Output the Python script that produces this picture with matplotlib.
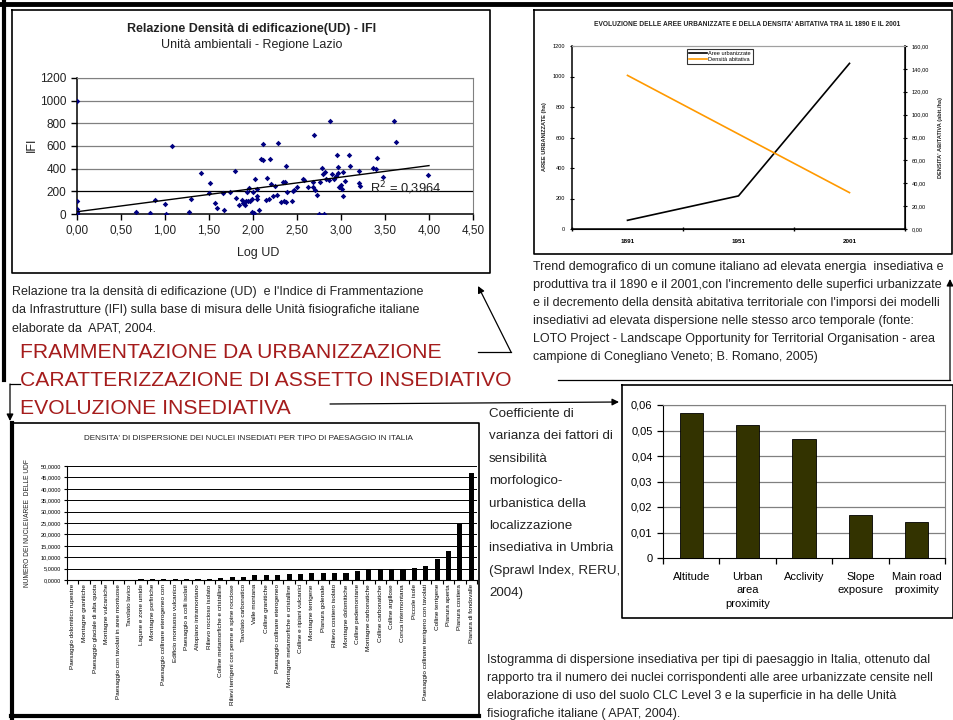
import numpy as np
import matplotlib
matplotlib.use('Agg')
import matplotlib.pyplot as plt
import matplotlib.font_manager as fm
from matplotlib.ticker import FuncFormatter, FixedLocator

plt.rcParams['font.family'] = ['Liberation Sans', 'DejaVu Sans']

# --- dati: relazione UD - IFI (Lazio)
log_ud = [0, 0, 0, 0, 0, 0,
          0.674, 0.833, 0.89, 1.004, 1.015, 1.083, 1.269, 1.30, 1.413, 1.508,
          1.504, 1.568, 1.587, 1.674, 1.66, 1.735, 1.795, 1.81, 1.84, 1.875,
          1.89, 1.905, 1.917, 1.93, 1.94, 1.955, 1.97, 1.985, 1.99, 2.0,
          2.015, 2.02, 2.04, 2.04, 2.07, 2.05, 2.095, 2.114, 2.117, 2.15,
          2.16, 2.18, 2.19, 2.21, 2.227, 2.25, 2.27, 2.285, 2.32, 2.34,
          2.35, 2.36, 2.37, 2.38, 2.386, 2.44, 2.455, 2.47, 2.5, 2.568,
          2.576, 2.625, 2.68, 2.69, 2.68, 2.7, 2.727, 2.76, 2.75, 2.806,
          2.78, 2.8, 2.82, 2.83, 2.86, 2.879, 2.9, 2.917, 2.94, 2.958,
          2.97, 2.97, 2.98, 3.0, 3.015, 3.02, 3.02, 3.05, 3.087, 3.106,
          3.2, 3.2, 3.22, 3.367, 3.4, 3.41, 3.48, 3.6, 3.62, 3.99]
ifi = [995, 117, 44, 9, 2, 20,
       20, 9, 126, 85, 0, 600, 18, 135, 366, 275,
       184, 94, 53, 32, 184, 196, 378, 138, 82, 126,
       97, 76, 111, 196, 111, 228, 111, 135, 20, 190,
       9, 313, 161, 132, 32, 220, 486, 477, 618, 126,
       322, 132, 486, 266, 158, 249, 167, 629, 102, 278,
       117, 278, 108, 427, 196, 117, 202, 214, 237, 313,
       296, 240, 284, 700, 240, 214, 164, 278, 0, 0,
       407, 354, 375, 307, 299, 822, 351, 310, 331, 518,
       419, 360, 234, 252, 220, 369, 155, 287, 524, 424,
       383, 272, 243, 407, 395, 498, 328, 820, 632, 345]
trend_x = [0, 4.0]
trend_y = [20, 427]

# --- dati: evoluzione aree urbanizzate / densita
anni = ['1891', '1951', '2001']
aree_urb = [57, 217, 1086]
dens_abit = [134.3, 83.0, 31.8]

# --- dati: dispersione per tipo di paesaggio
paesaggi = ['Paesaggio dolomitico rupestre', 'Montagne granitiche',
            'Paesaggio glaciale di alta quota', 'Montagne vulcaniche',
            'Paesaggio con tavolati in aree montuose', 'Tavolato lavico',
            'Lagune e zone umide', 'Montagne porfiriche',
            'Paesaggio collinare eterogeneo con', 'Edificio montuoso vulcanico',
            'Paesaggio a colli isolati', 'Altopiano intramontano',
            'Rilievo roccioso isolato', 'Colline metamorfiche e cristalline',
            'Rilievi terrigeni con penne e spine rocciose', 'Tavolato carbonatico',
            'Valle montana', 'Colline granitiche', 'Paesaggio collinare eterogeneo',
            'Montagne metamorfiche e cristalline', 'Colline e ripiani vulcanici',
            'Montagne terrigene', 'Pianura golenale', 'Rilievo costiero isolato',
            'Montagne dolomitiche', 'Colline pedemontane', 'Montagne carbonatiche',
            'Colline carbonatiche', 'Colline argillose', 'Conca intermontana',
            'Piccole isole', 'Paesaggio collinare terrigeno con tavolati',
            'Colline terrigene', 'Pianura aperta', 'Pianura costiera',
            'Pianura di fondovalle']
dispersione = [0.02, 0.05, 0.08, 0.1, 0.12, 0.15, 0.3, 0.35, 0.4, 0.4,
               0.45, 0.6, 0.65, 0.9, 1.2, 1.5, 2.0, 2.0, 2.3, 2.8,
               2.8, 2.9, 3.1, 3.1, 3.2, 4.1, 5.0, 5.0, 5.0, 5.0,
               5.4, 6.0, 9.0, 12.6, 24.7, 46.8]

# --- dati: coefficiente di varianza (Umbria)
fattori = ['Altitude', 'Urban\narea\nproximity', 'Acclivity',
           'Slope\nexposure', 'Main road\nproximity']
varianza = [0.0569, 0.0520, 0.0468, 0.0168, 0.0140]

W, H = 954, 720
names = {f.name for f in fm.fontManager.ttflist}
NARROW = 'Liberation Sans Narrow' if 'Liberation Sans Narrow' in names else 'Liberation Sans'
k = 1.0 if NARROW == 'Liberation Sans Narrow' else 0.82   # riduzione se manca il narrow

def box(x0, y0, x1, y1):
    return [x0 / W, 1 - y1 / H, (x1 - x0) / W, (y1 - y0) / H]

def comma(fmt):
    return FuncFormatter(lambda v, p: (fmt % v).replace('.', ','))

fig = plt.figure(figsize=(9.54, 7.2), dpi=100)

# ---------- scatter UD - IFI
ax1 = fig.add_axes(box(77, 78, 473, 214))
ax1.set_xlim(0, 4.5)
ax1.set_ylim(0, 1200)
for yv in range(200, 1201, 200):
    ax1.axhline(yv, color='black' if yv == 200 else '#808080', lw=0.9, zorder=0)
ax1.scatter(log_ud, ifi, marker='D', s=8, color='#000080', zorder=3, lw=0)
ax1.plot(trend_x, trend_y, color='black', lw=1, zorder=4)
ax1.text(3.33, 190, 'R$^2$ = 0,3964', fontsize=9.3, color='#222222', zorder=5)
ax1.set_xticks(np.arange(0, 4.51, 0.5))
ax1.set_yticks(range(0, 1201, 200))
ax1.xaxis.set_major_formatter(comma('%.2f'))
ax1.tick_params(labelsize=8.5, length=4, width=1, colors='black', labelcolor='#222222')
for s in ['top', 'right']:
    ax1.spines[s].set_color('#808080')
for s in ['left', 'bottom']:
    ax1.spines[s].set_linewidth(1.1)

# ---------- evoluzione aree urbanizzate
ax2 = fig.add_axes(box(572, 46, 905, 229))
xs = np.arange(len(anni))
l1, = ax2.plot(xs, aree_urb, color='black', lw=1.2, label='Aree urbanizzate')
ax2.set_xlim(-0.5, 2.5)
ax2.set_ylim(0, 1200)
ax2.set_yticks(range(0, 1201, 200))
ax2.xaxis.set_major_locator(FixedLocator([-0.5, 0.5, 1.5, 2.5]))
ax2.xaxis.set_major_formatter(FuncFormatter(lambda v, p: ''))
ax2.set_xticks(xs, minor=True)
ax2.set_xticklabels(anni, minor=True, fontsize=5.5 * k, fontweight='bold', family=NARROW)
ax2.tick_params(axis='x', which='minor', length=0, pad=7)
ax2.tick_params(axis='x', which='major', length=3, direction='inout', width=1)
ax2.tick_params(axis='y', labelsize=5 * k, length=3, width=0.8, direction='inout')
for t in ax2.get_yticklabels():
    t.set_family(NARROW)
ax2.spines['top'].set_color('#a0a0a0')
for s in ['left', 'bottom']:
    ax2.spines[s].set_linewidth(1.1)
ax2r = ax2.twinx()
l2, = ax2r.plot(xs, dens_abit, color='#FF9900', lw=1.2, label='Densità abitativa')
ax2r.set_ylim(0, 160)
ax2r.set_yticks(range(0, 161, 20))
ax2r.yaxis.set_major_formatter(comma('%.2f'))
ax2r.tick_params(axis='y', labelsize=5 * k, length=3, width=0.8, direction='inout')
for t in ax2r.get_yticklabels():
    t.set_family(NARROW)
ax2r.spines['top'].set_color('#a0a0a0')
ax2r.spines['right'].set_linewidth(1.1)
ax2r.spines['left'].set_visible(False)
leg = ax2r.legend([l1, l2], ['Aree urbanizzate', 'Densità abitativa'],
                  loc='upper left', bbox_to_anchor=(684 / W, 1 - 46 / H),
                  bbox_transform=fig.transFigure, prop={'family': NARROW, 'size': 5 * k},
                  frameon=True, fancybox=False, edgecolor='black', borderpad=0.3,
                  handlelength=3.2, labelspacing=0.25, handletextpad=0.3)
leg.get_frame().set_linewidth(0.8)

# ---------- dispersione per paesaggio
ax3 = fig.add_axes(box(67, 466, 477, 580))
xp = np.arange(len(paesaggi))
ax3.bar(xp, dispersione, width=0.45, color='black', zorder=3)
ax3.set_xlim(-0.5, len(paesaggi) - 0.5)
ax3.set_ylim(0, 50)
ax3.set_yticks(range(0, 51, 5))
ax3.yaxis.set_major_formatter(comma('%.4f'))
for yv in range(5, 51, 5):
    ax3.axhline(yv, color='black', lw=0.7, zorder=0)
ax3.set_xticks(xp)
ax3.set_xticklabels(paesaggi, rotation=90, fontsize=4.6, family=NARROW, va='top')
ax3.xaxis.set_minor_locator(FixedLocator(np.arange(-0.5, len(paesaggi), 1)))
ax3.tick_params(axis='x', which='major', length=0, pad=3)
ax3.tick_params(axis='x', which='minor', length=3, width=0.8)
ax3.tick_params(axis='y', labelsize=5 * k, length=2.5, width=0.8, pad=1.5)
for t in ax3.get_yticklabels():
    t.set_family(NARROW)
ax3.spines['top'].set_visible(False)
ax3.spines['right'].set_visible(False)

# ---------- coefficiente di varianza
ax4 = fig.add_axes(box(663, 405, 945, 558))
xf = np.arange(len(fattori))
ax4.bar(xf, varianza, width=0.41, color='#333300', edgecolor='black', lw=0.6, zorder=3)
ax4.set_xlim(-0.5, len(fattori) - 0.5)
ax4.set_ylim(0, 0.06)
ax4.set_yticks(np.arange(0, 0.061, 0.01))
ax4.yaxis.set_major_formatter(FuncFormatter(lambda v, p: '0' if abs(v) < 1e-9 else ('%.2f' % v).replace('.', ',')))
for yv in np.arange(0.01, 0.061, 0.01):
    ax4.axhline(yv, color='#808080', lw=0.9, zorder=0)
ax4.set_xticks(xf)
ax4.set_xticklabels(fattori, fontsize=8, linespacing=1.45, va='top')
ax4.xaxis.set_minor_locator(FixedLocator(np.arange(-0.5, len(fattori), 1)))
ax4.tick_params(axis='x', which='major', length=0, pad=10)
ax4.tick_params(axis='x', which='minor', length=4, width=0.9)
ax4.tick_params(axis='y', labelsize=8, length=4, width=0.9)
for s in ['top', 'right']:
    ax4.spines[s].set_color('#808080')

# ---------- overlay: cornici, testi, frecce
ov = fig.add_axes([0, 0, 1, 1], zorder=10)
ov.set_xlim(0, W)
ov.set_ylim(H, 0)
ov.axis('off')
ov.patch.set_alpha(0)

def rect(x0, y0, x1, y1, lw=1.2):
    ov.plot([x0, x1, x1, x0, x0], [y0, y0, y1, y1, y0], color='black', lw=lw)

ov.plot([0, W], [4, 4], color='black', lw=3.5)
ov.plot([4, 4], [2, 380], color='black', lw=3)
rect(12, 10, 490, 273)
rect(534, 10, 952, 254)
rect(11, 423, 479, 717)
ov.plot([12, 12], [423, 718], color='black', lw=3)
ov.plot([11, 479], [716, 716], color='black', lw=3)
rect(622, 385, 953, 618)

tc = '#222222'
ov.text(252, 29, 'Relazione Densità di edificazione(UD) - IFI', ha='center', va='center',
        fontsize=9, fontweight='bold', color=tc)
ov.text(252, 45, 'Unità ambientali - Regione Lazio', ha='center', va='center', fontsize=9, color=tc)
ov.text(32, 145, 'IFI', rotation=90, ha='center', va='center', fontsize=9, color=tc)
ov.text(258, 253, 'Log UD', ha='center', va='center', fontsize=9, color=tc)

ov.text(747, 24, "EVOLUZIONE DELLE AREE URBANIZZATE E DELLA DENSITA' ABITATIVA TRA 1L 1890 E IL 2001",
        ha='center', va='center', fontsize=4.8, fontweight='bold', family=NARROW, color=tc)
ov.text(545, 137, 'AREE URBANIZZATE (ha)', rotation=90, ha='center', va='center',
        fontsize=5 * k, fontweight='bold', family=NARROW, color=tc)
ov.text(941, 137, "DENSITA' ABITATIVA (abit./ha)", rotation=90, ha='center', va='center',
        fontsize=5 * k, fontweight='bold', family=NARROW, color=tc)

ov.text(248, 439, "DENSITA' DI DISPERSIONE DEI NUCLEI INSEDIATI PER TIPO DI PAESAGGIO IN ITALIA",
        ha='center', va='center', fontsize=5.9, family=NARROW, color=tc)
ov.text(28, 523, 'NUMERO DEI NUCLEI/AREE  DELLE UDF', rotation=90, ha='center', va='center',
        fontsize=4.8, family=NARROW, color=tc)

cs = 9.0  # corpo delle didascalie
cap = {'family': NARROW, 'fontsize': cs, 'color': tc, 'va': 'center', 'ha': 'left'}
cap1 = ["Relazione tra la densità di edificazione (UD)  e l'Indice di Frammentazione",
        "da Infrastrutture (IFI) sulla base di misura delle Unità fisiografiche italiane",
        "elaborate da  APAT, 2004."]
for i, s in enumerate(cap1):
    ov.text(12, 292 + 18.2 * i, s, **cap)
cap2 = ["Trend demografico di un comune italiano ad elevata energia  insediativa e",
        "produttiva tra il 1890 e il 2001,con l'incremento delle superfici urbanizzate",
        "e il decremento della densità abitativa territoriale con l'imporsi dei modelli",
        "insediativi ad elevata dispersione nelle stesso arco temporale (fonte:",
        "LOTO Project - Landscape Opportunity for Territorial Organisation - area",
        "campione di Conegliano Veneto; B. Romano, 2005)"]
for i, s in enumerate(cap2):
    ov.text(533, 267 + 18 * i, s, **cap)
cap3 = ["Coefficiente di", "varianza dei fattori di", "sensibilità", "morfologico-",
        "urbanistica della", "localizzazione", "insediativa in Umbria",
        "(Sprawl Index, RERU,", "2004)"]
for i, s in enumerate(cap3):
    ov.text(489, 414 + 22.4 * i, s, family=NARROW, fontsize=9.6, color=tc, va='center')
cap4 = ["Istogramma di dispersione insediativa per tipi di paesaggio in Italia, ottenuto dal",
        "rapporto tra il numero dei nuclei corrispondenti alle aree urbanizzate censite nell",
        "elaborazione di uso del suolo CLC Level 3 e la superficie in ha delle Unità",
        "fisiografiche italiane ( APAT, 2004)."]
for i, s in enumerate(cap4):
    ov.text(487, 660 + 18 * i, s, **cap)

red = '#A51C1C'
for i, s in enumerate(['FRAMMENTAZIONE DA URBANIZZAZIONE',
                       'CARATTERIZZAZIONE DI ASSETTO INSEDIATIVO',
                       'EVOLUZIONE INSEDIATIVA']):
    ov.text(20, 353 + 27.5 * i, s, fontsize=15.2, color=red, va='center', ha='left')

arr = dict(arrowstyle='-|>', color='black', lw=0.9, mutation_scale=10, shrinkA=0, shrinkB=0)
ov.plot([478, 511], [352, 352], color='black', lw=0.9)
ov.annotate('', xy=(478, 286), xytext=(511, 352), arrowprops=arr)
ov.plot([558, 950], [380, 380], color='black', lw=0.9)
ov.annotate('', xy=(950, 279), xytext=(950, 380), arrowprops=arr)
ov.annotate('', xy=(619, 402), xytext=(330, 404), arrowprops=arr)
ov.plot([20, 10], [384, 384], color='black', lw=0.9)
ov.annotate('', xy=(10, 421), xytext=(10, 384), arrowprops=arr)

fig.savefig('out.png', dpi=100)
